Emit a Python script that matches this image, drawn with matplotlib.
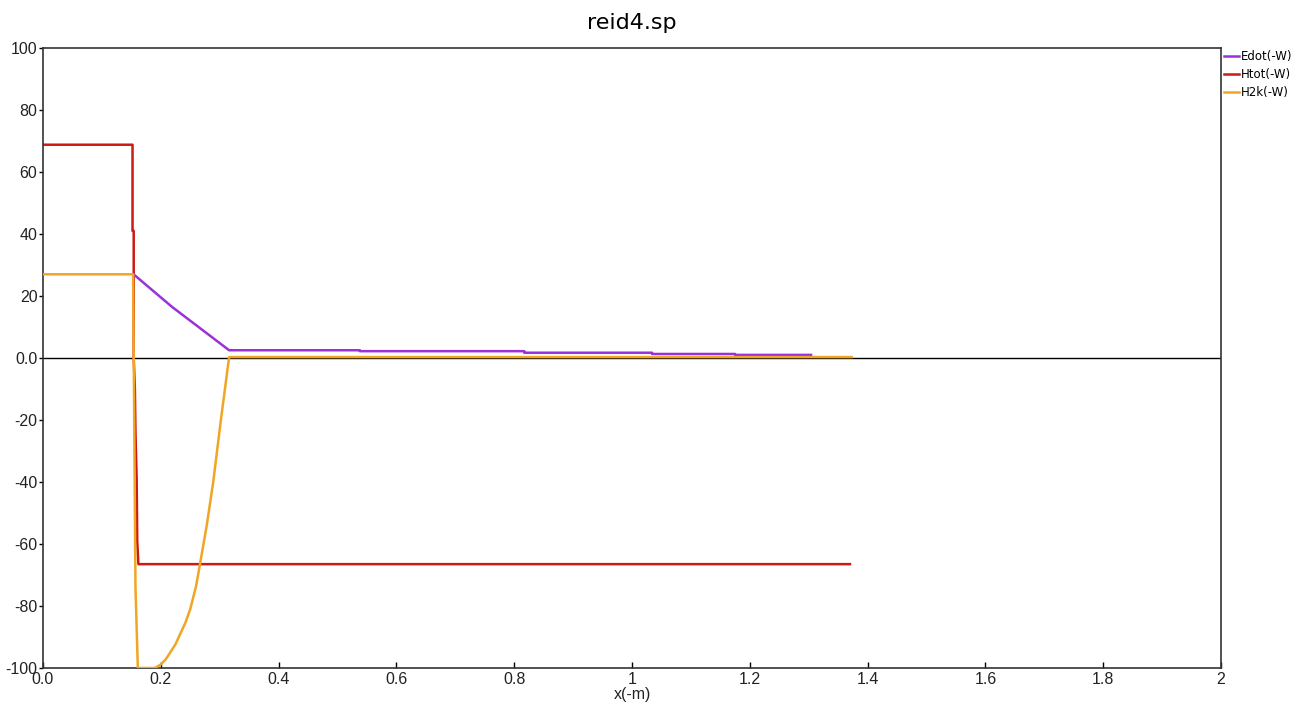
import matplotlib
matplotlib.use("Agg")
import matplotlib.pyplot as plt

plt.rcParams['font.family'] = ['Liberation Sans', 'DejaVu Sans']

# Edot(-W): total energy flow along x
edot_x = [0.155, 0.219, 0.316, 0.538, 0.538, 0.817, 0.817, 1.034, 1.034, 1.175, 1.175, 1.304]
edot_y = [26.8, 16.5, 2.5, 2.5, 2.2, 2.2, 1.7, 1.7, 1.3, 1.3, 1.0, 1.0]

# Htot(-W): total enthalpy flow
htot_x = [0.0, 0.152, 0.152, 0.154, 0.154, 0.156, 0.157, 0.159, 0.160, 0.162, 1.370]
htot_y = [68.8, 68.8, 41.0, 41.0, 0.0, -10.0, -24.0, -39.0, -59.0, -66.5, -66.5]

# H2k(-W): second-order enthalpy flow
h2k_x = [0.0, 0.153, 0.157, 0.161, 0.190, 0.199, 0.208, 0.216, 0.225, 0.233, 0.242,
         0.250, 0.260, 0.267, 0.278, 0.289, 0.302, 0.316, 1.373]
h2k_y = [27.0, 27.0, -74.0, -100.0, -100.0, -99.0, -97.3, -95.0, -92.3, -89.0, -85.3,
         -81.0, -73.5, -66.0, -54.0, -40.0, -20.0, 0.3, 0.3]

x_ticks = [0.0, 0.2, 0.4, 0.6, 0.8, 1.0, 1.2, 1.4, 1.6, 1.8, 2.0]
x_labels = ['0.0', '0.2', '0.4', '0.6', '0.8', '1', '1.2', '1.4', '1.6', '1.8', '2']
y_ticks = [100, 80, 60, 40, 20, 0, -20, -40, -60, -80, -100]
y_labels = ['100', '80', '60', '40', '20', '0.0', '-20', '-40', '-60', '-80', '-100']

fig = plt.figure(figsize=(13.09, 7.14), dpi=100)
ax = fig.add_axes([43 / 1309, 46 / 714, 1178 / 1309, 620 / 714])

ax.axhline(0, color='black', lw=1.0, zorder=1)
l1, = ax.plot(edot_x, edot_y, color='#9a32d8', lw=1.8, label='Edot(-W)', zorder=3)
l2, = ax.plot(htot_x, htot_y, color='#cc1a14', lw=1.8, label='Htot(-W)', zorder=2)
l3, = ax.plot(h2k_x, h2k_y, color='#f0a623', lw=1.8, label='H2k(-W)', zorder=4)

ax.set_xlim(0, 2)
ax.set_ylim(-100, 100)
ax.set_xticks(x_ticks)
ax.set_xticklabels(x_labels)
ax.set_yticks(y_ticks)
ax.set_yticklabels(y_labels)
ax.tick_params(axis='x', direction='in', length=4, width=1, pad=3, labelsize=11.5,
               labelcolor='#222222')
ax.tick_params(axis='y', direction='out', length=3, width=1, pad=1, labelsize=11.5,
               labelcolor='#222222')
for sp in ax.spines.values():
    sp.set_color('#333333')
    sp.set_linewidth(1.2)

ax.set_xlabel('x(-m)', fontsize=11.5, labelpad=0, color='#222222')
ax.set_title('reid4.sp', fontsize=16, family='DejaVu Sans', pad=13.5)

fig.legend(handles=[l1, l2, l3], loc='upper left',
           bbox_to_anchor=(1224 / 1309, 1 - 50 / 714), frameon=False,
           prop={'family': 'DejaVu Sans', 'size': 8.5},
           handlelength=1.3, handletextpad=0.15, labelspacing=0.42,
           borderaxespad=0, borderpad=0.0)

fig.savefig('out.png', dpi=100)
